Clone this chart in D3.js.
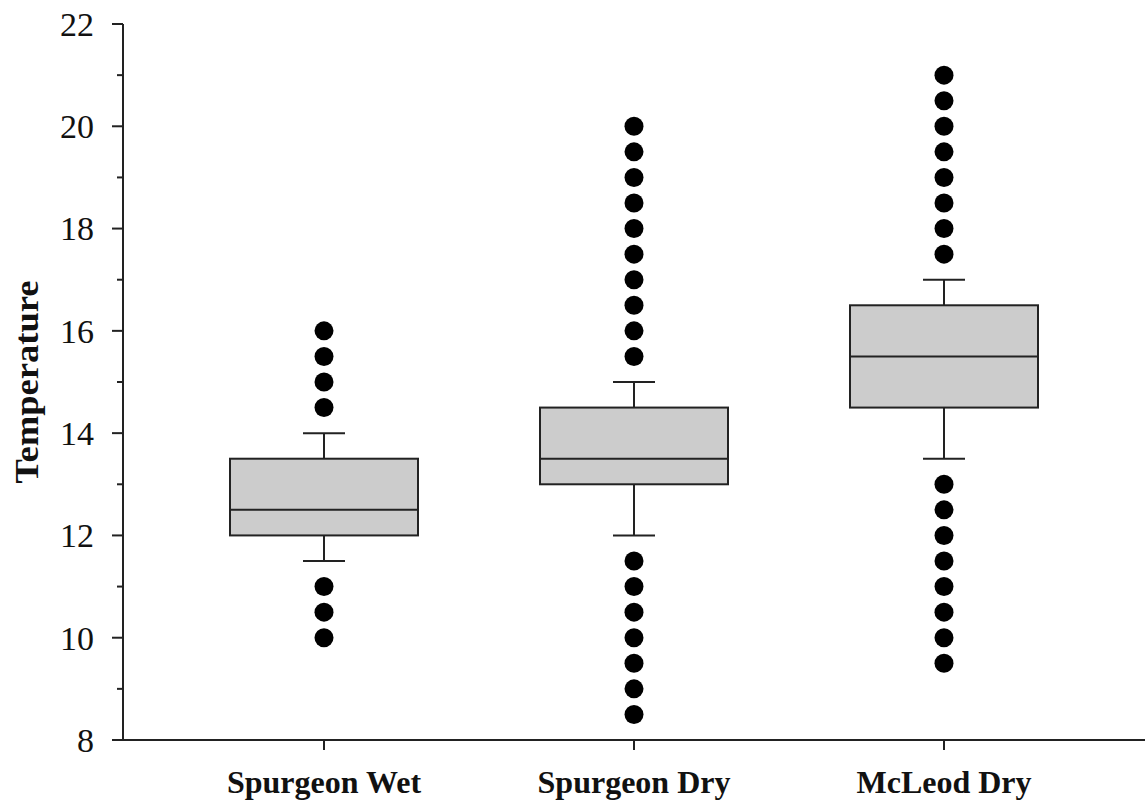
<!DOCTYPE html>
<html>
<head>
<meta charset="utf-8">
<script src="https://cdn.jsdelivr.net/npm/d3@7"></script>
<style>
  body { margin: 0; background: #fff; }
  text { font-family: "Liberation Serif", "Times New Roman", serif; fill: #111; }
</style>
</head>
<body>
<svg id="chart" width="1145" height="808"></svg>
<script>
'use strict';

// data
var categories = ['Spurgeon Wet', 'Spurgeon Dry', 'McLeod Dry'];
var q1 = [12, 13, 14.5];
var median = [12.5, 13.5, 15.5];
var q3 = [13.5, 14.5, 16.5];
var whiskerLow = [11.5, 12, 13.5];
var whiskerHigh = [14, 15, 17];
var outliers = [
  [16, 15.5, 15, 14.5, 11, 10.5, 10],
  [20, 19.5, 19, 18.5, 18, 17.5, 17, 16.5, 16, 15.5, 11.5, 11, 10.5, 10, 9.5, 9, 8.5],
  [21, 20.5, 20, 19.5, 19, 18.5, 18, 17.5, 13, 12.5, 12, 11.5, 11, 10.5, 10, 9.5]
];
var yTicks = [8, 10, 12, 14, 16, 18, 20, 22];
var yMinorTicks = [9, 11, 13, 15, 17, 19, 21];

var svg = d3.select('#chart');
var axisLeft = 123, axisBottom = 740, axisTop = 24, axisRight = 1145;

var y = d3.scaleLinear().domain([8, 22]).range([axisBottom, axisTop]);
var x = d3.scalePoint().domain(categories).range([324, 944]);

var boxW = 188, capW = 42, dotR = 9.5;

// y axis
var yAxis = svg.append('g').attr('transform', 'translate(' + axisLeft + ',0)');
yAxis.append('line').attr('x1', 0).attr('x2', 0).attr('y1', y(22)).attr('y2', y(8))
  .attr('stroke', '#222').attr('stroke-width', 2);
yAxis.selectAll('.major').data(yTicks).enter().append('line')
  .attr('x1', -11).attr('x2', 0).attr('y1', function(d) { return y(d); }).attr('y2', function(d) { return y(d); })
  .attr('stroke', '#222').attr('stroke-width', 2);
yAxis.selectAll('.minor').data(yMinorTicks).enter().append('line')
  .attr('x1', -6).attr('x2', 0).attr('y1', function(d) { return y(d); }).attr('y2', function(d) { return y(d); })
  .attr('stroke', '#222').attr('stroke-width', 2);
yAxis.selectAll('.lbl').data(yTicks).enter().append('text')
  .attr('x', -29).attr('y', function(d) { return y(d); }).attr('dy', '0.35em')
  .attr('text-anchor', 'end').attr('font-size', 34)
  .text(function(d) { return d; });

// x axis
var xAxis = svg.append('g').attr('transform', 'translate(0,' + axisBottom + ')');
xAxis.append('line').attr('x1', axisLeft).attr('x2', axisRight).attr('y1', 0).attr('y2', 0)
  .attr('stroke', '#222').attr('stroke-width', 2);
xAxis.selectAll('.tick').data(categories).enter().append('line')
  .attr('x1', function(d) { return x(d); }).attr('x2', function(d) { return x(d); })
  .attr('y1', 0).attr('y2', 10).attr('stroke', '#222').attr('stroke-width', 2);
xAxis.selectAll('.lbl').data(categories).enter().append('text')
  .attr('x', function(d) { return x(d); }).attr('y', 53)
  .attr('text-anchor', 'middle').attr('font-size', 32).attr('font-weight', 'bold')
  .text(function(d) { return d; });

// axis title
svg.append('text')
  .attr('transform', 'translate(38,' + ((axisTop + axisBottom) / 2) + ') rotate(-90)')
  .attr('text-anchor', 'middle').attr('font-size', 33).attr('font-weight', 'bold')
  .attr('textLength', 203).attr('lengthAdjust', 'spacingAndGlyphs')
  .text('Temperature');

// boxes
var groups = svg.selectAll('.box').data(categories).enter().append('g')
  .attr('transform', function(d) { return 'translate(' + x(d) + ',0)'; });

groups.each(function(d, i) {
  var g = d3.select(this);
  // whiskers
  g.append('line').attr('x1', 0).attr('x2', 0).attr('y1', y(q3[i])).attr('y2', y(whiskerHigh[i]))
    .attr('stroke', '#222').attr('stroke-width', 2);
  g.append('line').attr('x1', 0).attr('x2', 0).attr('y1', y(q1[i])).attr('y2', y(whiskerLow[i]))
    .attr('stroke', '#222').attr('stroke-width', 2);
  g.append('line').attr('x1', -capW / 2).attr('x2', capW / 2).attr('y1', y(whiskerHigh[i])).attr('y2', y(whiskerHigh[i]))
    .attr('stroke', '#222').attr('stroke-width', 2);
  g.append('line').attr('x1', -capW / 2).attr('x2', capW / 2).attr('y1', y(whiskerLow[i])).attr('y2', y(whiskerLow[i]))
    .attr('stroke', '#222').attr('stroke-width', 2);
  // box
  g.append('rect').attr('x', -boxW / 2).attr('width', boxW)
    .attr('y', y(q3[i])).attr('height', y(q1[i]) - y(q3[i]))
    .attr('fill', '#cccccc').attr('stroke', '#222').attr('stroke-width', 2);
  g.append('line').attr('x1', -boxW / 2).attr('x2', boxW / 2).attr('y1', y(median[i])).attr('y2', y(median[i]))
    .attr('stroke', '#222').attr('stroke-width', 2);
  // outliers
  g.selectAll('circle').data(outliers[i]).enter().append('circle')
    .attr('cx', 0).attr('cy', function(v) { return y(v); }).attr('r', dotR).attr('fill', '#000');
});
</script>
</body>
</html>
